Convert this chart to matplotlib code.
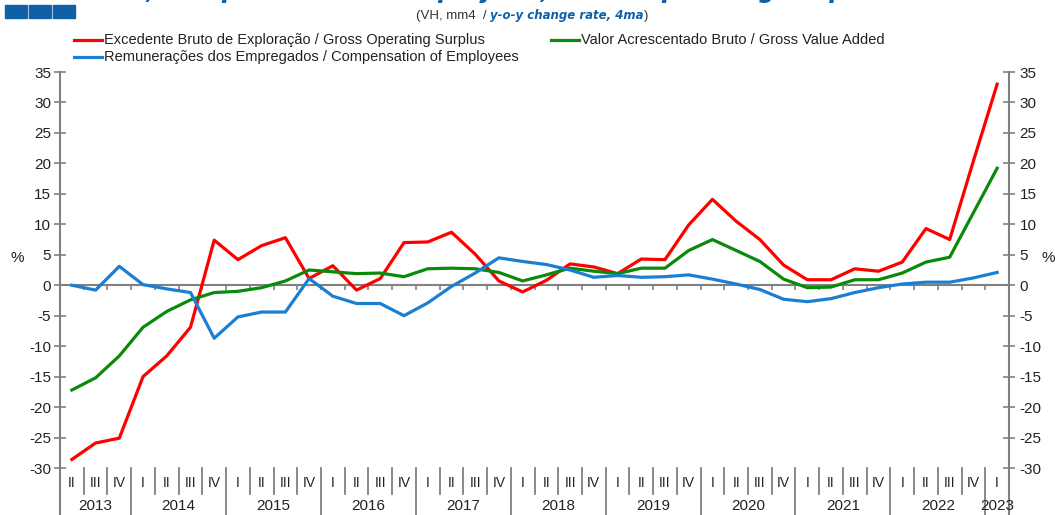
import matplotlib.pyplot as plt
from matplotlib.patches import Rectangle

plt.rcParams['font.family'] = ['Liberation Sans', 'DejaVu Sans']
plt.rcParams['axes.unicode_minus'] = False

# quarters 2013 II .. 2023 I
years = ['2013', '2014', '2015', '2016', '2017', '2018', '2019', '2020', '2021', '2022', '2023']
quarters = ['II', 'III', 'IV'] + ['I', 'II', 'III', 'IV'] * 9 + ['I']

gos = [-28.6, -25.9, -25.1, -15.0, -11.6, -6.9, 7.4, 4.2, 6.5, 7.8, 1.1,
       3.2, -0.8, 1.1, 7.0, 7.1, 8.7, 5.1, 0.7, -1.1, 0.8, 3.5, 3.0,
       1.9, 4.3, 4.2, 9.9, 14.1, 10.5, 7.5, 3.3, 0.9, 0.9, 2.7, 2.3,
       3.8, 9.3, 7.5, 20.4, 33.0]
gva = [-17.2, -15.2, -11.6, -6.9, -4.3, -2.4, -1.2, -1.0, -0.4, 0.7, 2.5,
       2.2, 1.9, 2.0, 1.4, 2.7, 2.8, 2.7, 2.1, 0.7, 1.7, 2.8, 2.3,
       1.9, 2.8, 2.8, 5.7, 7.5, 5.7, 3.9, 1.0, -0.4, -0.3, 0.9, 0.9,
       2.0, 3.8, 4.6, 11.9, 19.2]
coe = [0.0, -0.8, 3.1, 0.1, -0.6, -1.2, -8.7, -5.2, -4.4, -4.4, 1.1,
       -1.8, -3.0, -3.0, -5.0, -2.9, -0.2, 2.0, 4.5, 3.9, 3.4, 2.5, 1.3,
       1.6, 1.3, 1.4, 1.7, 1.0, 0.2, -0.7, -2.3, -2.7, -2.2, -1.2, -0.4,
       0.2, 0.5, 0.5, 1.2, 2.1]

red = '#ff0000'
green = '#0a8a0a'
blue = '#1a7fd4'
grey = '#808080'
title_blue = '#1060a8'

W, H = 1055, 515
fig = plt.figure(figsize=(W / 100, H / 100), dpi=100)
ax = fig.add_axes([60 / W, (H - 468) / H, (1009 - 60) / W, (468 - 72) / H])

x = list(range(len(quarters)))
ax.plot(x, gos, color=red, lw=2.3, zorder=3)
ax.plot(x, gva, color=green, lw=2.3, zorder=3)
ax.plot(x, coe, color=blue, lw=2.3, zorder=3)

ax.set_xlim(-0.5, len(quarters) - 0.5)
ax.set_ylim(-30, 35)
ax.axhline(0, color=grey, lw=1.5, zorder=2)
ax.vlines([i + 0.5 for i in x[:-1]], -0.8, 0, color=grey, lw=1.2, zorder=2)

for s in ax.spines.values():
    s.set_visible(False)
ax.set_xticks([])
yt = list(range(-30, 36, 5))
ax.set_yticks(yt)
ax.tick_params(axis='y', direction='inout', length=9, width=1.2, color=grey,
               labelsize=11, labelcolor='#222222', pad=2)
ax2 = ax.twinx()
ax2.set_ylim(ax.get_ylim())
ax2.set_yticks(yt)
for s in ax2.spines.values():
    s.set_visible(False)
ax2.tick_params(axis='y', direction='inout', length=9, width=1.2, color=grey,
                labelsize=11, labelcolor='#222222', pad=3)

# axis lines + category separators below the plot
tr = ax.get_xaxis_transform()
n = len(quarters)
ax.plot([-0.5, -0.5], [1, -0.125], transform=tr, color=grey, lw=1.5, clip_on=False)
ax.plot([n - 0.5, n - 0.5], [1, -0.125], transform=tr, color=grey, lw=1.5, clip_on=False)
year_idx = []
for i, q in enumerate(quarters):
    ax.text(i, -0.037, q, transform=tr, ha='center', va='center', fontsize=10, color='#222222')
    if q == 'I':
        year_idx.append(i)
        if i > 0:
            ax.plot([i - 0.5, i - 0.5], [0, -0.125], transform=tr, color=grey, lw=1.3, clip_on=False)
    elif i > 0:
        ax.plot([i - 0.5, i - 0.5], [0, -0.065], transform=tr, color=grey, lw=1.3, clip_on=False)
year_start = [0] + year_idx
year_end = year_idx + [n]
for yr, a, b in zip(years, year_start, year_end):
    ax.text((a + b - 1) / 2, -0.095, yr, transform=tr, ha='center', va='center',
            fontsize=11, color='#222222')

fig.text(17 / W, 1 - 258 / H, '%', ha='center', va='center', fontsize=11, color='#222222')
fig.text(1048 / W, 1 - 258 / H, '%', ha='center', va='center', fontsize=11, color='#222222')

# legend
legend = [(red, 'Excedente Bruto de Exploração / Gross Operating Surplus', 74, 40),
          (green, 'Valor Acrescentado Bruto / Gross Value Added', 551, 40),
          (blue, 'Remunerações dos Empregados / Compensation of Employees', 74, 57)]
for c, label, lx, ly in legend:
    fig.add_artist(plt.Line2D([lx / W, (lx + 28) / W], [1 - ly / H, 1 - ly / H], color=c, lw=2.3))
    fig.text((lx + 30) / W, 1 - ly / H, label, ha='left', va='center', fontsize=10.5, color='#222222')

# header (title is cut off at the top edge in the source image)
fig.text(885 / W, 1 + 2 / H, 'Gross Value Added, Compensation of Employees, Gross Operating Surplus',
         ha='right', va='baseline', fontsize=17, fontweight='bold', fontstyle='italic',
         color=title_blue, family='DejaVu Sans')
for k in range(3):
    fig.add_artist(Rectangle(((5 + k * 24) / W, 1 - 18 / H), 22 / W, 13 / H,
                             color=title_blue, transform=fig.transFigure))
t1 = fig.text(416 / W, 1 - 16 / H, '(VH, mm4  / ', ha='left', va='center', fontsize=9.5, color='#333333')
fig.canvas.draw()
bb = t1.get_window_extent()
t2 = fig.text(bb.x1 / W, 1 - 16 / H, 'y-o-y change rate, 4ma', ha='left', va='center', fontsize=8.5,
              fontweight='bold', fontstyle='italic', color=title_blue, family='DejaVu Sans')
fig.canvas.draw()
bb2 = t2.get_window_extent()
fig.text(bb2.x1 / W, 1 - 16 / H, ')', ha='left', va='center', fontsize=9.5, color='#333333')

fig.savefig('out.png', dpi=100)
